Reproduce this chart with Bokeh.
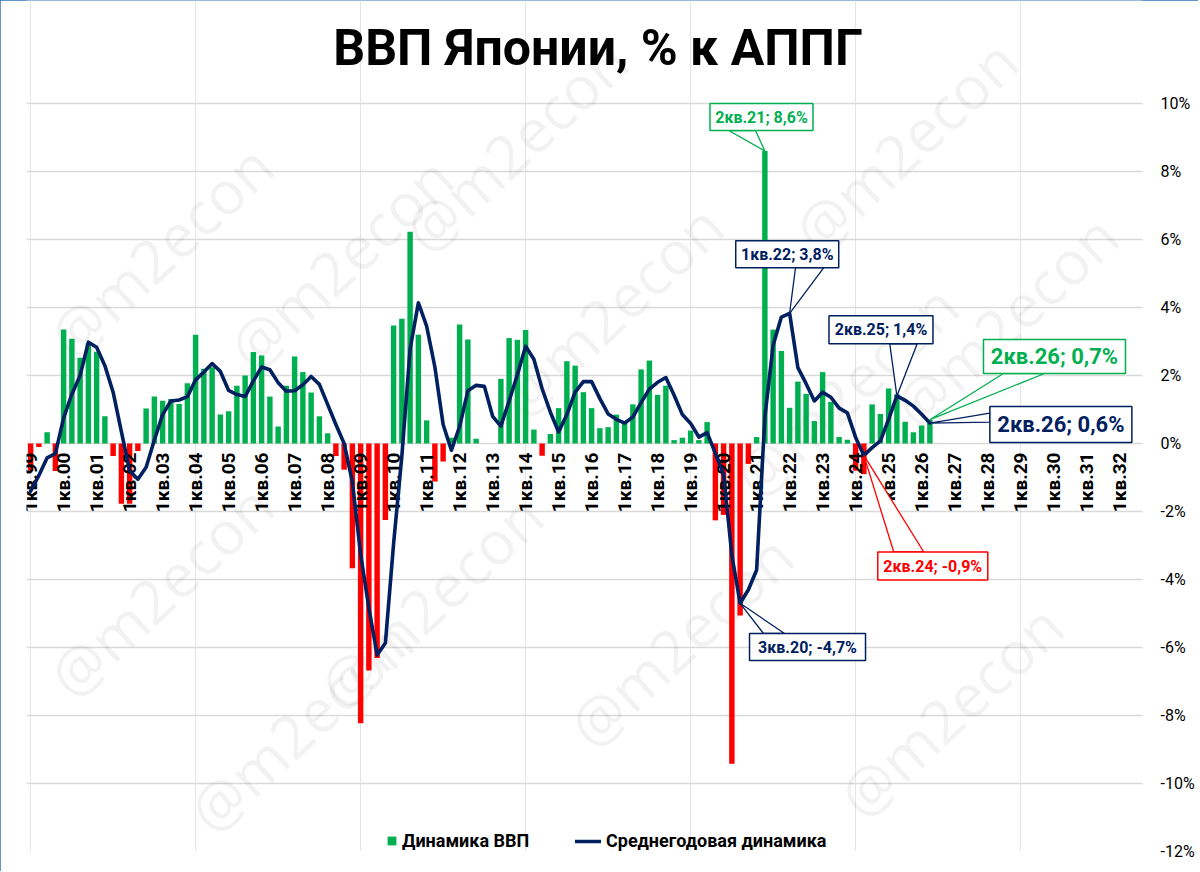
import math
from bokeh.plotting import figure
from bokeh.models import Range1d, FixedTicker, PrintfTickFormatter, Legend, LegendItem
from bokeh.core.properties import value
from bokeh.embed import file_html
from bokeh.resources import INLINE

# ---------------- data ----------------
TITLE = "ВВП Японии, % к АППГ"
bar_name = "Динамика ВВП"
line_name = "Среднегодовая динамика"

tick_labels = ["1кв.99", "1кв.00", "1кв.01", "1кв.02", "1кв.03", "1кв.04", "1кв.05",
               "1кв.06", "1кв.07", "1кв.08", "1кв.09", "1кв.10", "1кв.11", "1кв.12",
               "1кв.13", "1кв.14", "1кв.15", "1кв.16", "1кв.17", "1кв.18", "1кв.19",
               "1кв.20", "1кв.21", "1кв.22", "1кв.23", "1кв.24", "1кв.25", "1кв.26",
               "1кв.27", "1кв.28", "1кв.29", "1кв.30", "1кв.31", "1кв.32"]

# quarterly GDP, % y/y (1кв.99 ... 2кв.26)
bars = [
    -0.80, -0.10, 0.33, -0.81,
    3.35, 3.08, 2.52, 2.95,
    2.70, 0.80, -0.37, -1.77,
    -1.77, -0.22, 1.03, 1.38,
    1.26, 1.31, 1.16, 1.77,
    3.20, 2.20, 2.24, 0.85,
    0.95, 1.70, 2.00, 2.69,
    2.59, 1.38, 0.50, 1.70,
    2.56, 2.10, 1.50, 0.80,
    0.30, -0.37, -0.77, -3.67,
    -8.23, -6.68, -6.31, -2.25,
    3.47, 3.67, 6.23, 3.20,
    0.68, -1.12, -0.53, 0.17,
    3.50, 3.06, 0.14, 0.00,
    0.00, 1.90, 3.10, 3.05,
    3.34, 0.41, -0.36, 0.28,
    1.04, 2.42, 2.29, 1.51,
    1.04, 0.45, 0.48, 0.85,
    0.64, 1.15, 2.18, 2.44,
    1.43, 1.70, 0.10, 0.17,
    0.38, 0.10, 0.63, -2.26,
    -2.10, -9.42, -5.06, -0.60,
    0.19, 8.60, 3.35, 2.72,
    1.05, 1.82, 1.46, 0.66,
    2.10, 1.22, 0.19, 0.11,
    -0.80, -0.90, 1.15, 0.87,
    1.62, 1.45, 0.64, 0.33,
    0.53, 0.70,
]

# average annual dynamics, %
avg = [
    -1.40, -0.94, -0.42, -0.30,
    0.75, 1.45, 2.00, 2.98,
    2.83, 2.29, 1.51, 0.35,
    -0.80, -1.05, -0.70, 0.10,
    0.85, 1.25, 1.28, 1.38,
    1.87, 2.10, 2.35, 2.12,
    1.56, 1.44, 1.38, 1.84,
    2.25, 2.17, 1.79, 1.54,
    1.55, 1.73, 1.97, 1.74,
    1.15, 0.56, 0.00, -1.13,
    -3.26, -4.84, -6.22, -5.87,
    -2.94, -0.36, 2.78, 4.14,
    3.45, 2.25, 0.56, -0.20,
    0.50, 1.55, 1.71, 1.68,
    0.80, 0.51, 1.25, 2.02,
    2.86, 2.48, 1.61, 0.92,
    0.34, 0.85, 1.51, 1.82,
    1.82, 1.32, 0.87, 0.71,
    0.60, 0.78, 1.20, 1.60,
    1.80, 1.94, 1.42, 0.85,
    0.59, 0.19, 0.32, -0.29,
    -0.91, -3.29, -4.70, -4.30,
    -3.72, 0.78, 2.89, 3.72,
    3.83, 2.23, 1.76, 1.25,
    1.51, 1.36, 1.04, 0.90,
    0.18, -0.35, -0.12, 0.08,
    0.71, 1.40, 1.27, 1.10,
    0.86, 0.60,
]

y_ticks = [-12, -10, -8, -6, -4, -2, 0, 2, 4, 6, 8, 10]

# ---------------- style / layout ----------------
GREEN = "#00B050"
RED = "#FF0000"
NAVY = "#002060"
FONT = "Roboto"

FRAME_W, FRAME_H = 1116, 851
LEFT, TOP, BOTTOM, RIGHT = 26, 0, 20, 56
PAGE_LEFT, PAGE_TOP = LEFT, TOP
PX_X, PX_Y = 8.25, 34.0
X0 = -0.5
X1 = X0 + FRAME_W / PX_X
Y0 = -12.0
Y1 = Y0 + FRAME_H / PX_Y


def px2x(px):
    return X0 + (px - PAGE_LEFT) / PX_X


def px2y(py):
    return Y1 - (py - PAGE_TOP) / PX_Y


def x2px(x):
    return PAGE_LEFT + (x - X0) * PX_X


def y2px(y):
    return PAGE_TOP + (Y1 - y) * PX_Y


p = figure(frame_width=FRAME_W, frame_height=FRAME_H,
           x_range=Range1d(X0, X1), y_range=Range1d(Y0, Y1),
           x_axis_location=None, y_axis_location="right",
           toolbar_location=None, output_backend="svg",
           min_border_left=LEFT, min_border_top=TOP,
           min_border_bottom=BOTTOM, min_border_right=RIGHT)
p.outline_line_color = None
p.background_fill_color = "white"
p.border_fill_color = "white"
p.styles = {"outline": "1.5px solid #2E75B6", "outline-offset": "-1.5px"}

yax = p.yaxis[0]
yax.ticker = FixedTicker(ticks=y_ticks)
yax.formatter = PrintfTickFormatter(format="%d%%")
yax.axis_line_color = None
yax.major_tick_line_color = None
yax.minor_tick_line_color = None
yax.major_label_standoff = 12
yax.major_label_text_font = FONT
yax.major_label_text_font_size = "16px"
yax.major_label_text_color = "#000000"

p.ygrid.ticker = FixedTicker(ticks=y_ticks)
p.ygrid.grid_line_color = "#D9D9D9"
p.ygrid.grid_line_width = 1.3

# watermarks (page px centres), kept fully inside the plot area
wm_pos = [(160, 250), (340, 262), (515, 145), (610, 310), (905, 145), (845, 390),
          (1005, 320), (160, 590), (430, 600), (680, 640), (950, 710), (300, 725)]
p.text(x=[px2x(a) for a, b in wm_pos], y=[px2y(b) for a, b in wm_pos],
       text=["@m2econ"] * len(wm_pos), angle=0.75,
       text_font=value("Open Sans"), text_font_size="60px",
       text_color="#000000", text_alpha=0.05,
       text_align="center", text_baseline="middle")

# title
p.text(x=[px2x(597.5)], y=[px2y(47)], text=[TITLE],
       text_font=value(FONT), text_font_style="bold", text_font_size="50px",
       text_color="#000000", text_align="center", text_baseline="alphabetic")

# bars
idx = list(range(len(bars)))
bar_colors = [GREEN if v >= 0 else RED for v in bars]
bar_r = p.vbar(x=idx, top=bars, bottom=0, width=0.66,
               fill_color=bar_colors, line_color=None)

# category labels (every 4th quarter), rotated, just under 0%
lab_x = [4 * k for k in range(len(tick_labels))]
p.text(x=lab_x, y=[px2y(452)] * len(lab_x), text=tick_labels,
       angle=math.pi / 2, text_align="right", text_baseline="middle",
       text_font=value(FONT), text_font_style="bold", text_font_size="19px",
       text_color="#000000")

# average line
line_r = p.line(x=idx, y=avg, line_color=NAVY, line_width=3.6,
                line_join="round", line_cap="round")

# callouts: text, series, index, colour, font px, box w, h, box centre dx, dy (px from tip),
#           wedge side, wedge base offsets a, b
callouts = [
    ("2кв.21; 8,6%", bars, 89, GREEN, 16, 103, 27, -3.4, -34.1, "bottom", -32.7, -6),
    ("1кв.22; 3,8%", avg, 92, NAVY, 16, 103, 27, -2.4, -59.1, "bottom", 8.3, 36.6),
    ("2кв.25; 1,4%", avg, 105, NAVY, 16, 104, 28, -15.9, -66.1, "bottom", 8.8, 36.2),
    ("2кв.26; 0,7%", bars, 109, GREEN, 22, 142, 34, 124.6, -63.2, "bottom", -51, -10),
    ("2кв.26; 0,6%", avg, 109, NAVY, 22, 142, 36, 131.0, 1.4, "left", -11.3, -2.3),
    ("2кв.24; -0,9%", avg, 101, RED, 16, 110, 28, 68.9, 110.6, "top", -39, -9),
    ("3кв.20; -4,7%", avg, 86, NAVY, 16, 116, 27, 67.4, 43.7, "top", -44, -23),
]

for (txt, ser, i, col, fs, w, h, dx, dy, side, a, b) in callouts:
    tx, ty = i, ser[i]
    cx, cy = x2px(tx) + dx, y2px(ty) + dy
    if side == "bottom":
        base = [(cx + a, cy + h / 2), (cx + b, cy + h / 2)]
    elif side == "top":
        base = [(cx + a, cy - h / 2), (cx + b, cy - h / 2)]
    else:
        base = [(cx - w / 2, cy + a), (cx - w / 2, cy + b)]
    p.patch(x=[px2x(base[0][0]), px2x(base[1][0]), tx],
            y=[px2y(base[0][1]), px2y(base[1][1]), ty],
            fill_color="white", line_color=col, line_width=1.3)
    p.rect(x=[px2x(cx)], y=[px2y(cy)], width=w / PX_X, height=h / PX_Y,
           fill_color="white", line_color=col, line_width=1.5)
    p.text(x=[px2x(cx)], y=[px2y(cy)], text=[txt],
           text_font=value(FONT), text_font_style="bold", text_font_size=f"{fs}px",
           text_color=col, text_align="center", text_baseline="middle")

# legends (inside the frame, bottom)
leg1 = Legend(items=[LegendItem(label=bar_name, renderers=[bar_r], index=4)],
              location=(360, 0), orientation="horizontal",
              glyph_width=11, glyph_height=11, label_height=16, label_standoff=5,
              padding=0, margin=0, spacing=0,
              border_line_color=None, background_fill_alpha=0,
              label_text_font=FONT, label_text_font_style="bold",
              label_text_font_size="18px", label_text_color="#000000")
leg2 = Legend(items=[LegendItem(label=line_name, renderers=[line_r])],
              location=(549, 0), orientation="horizontal",
              glyph_width=26, glyph_height=16, label_height=16, label_standoff=5,
              padding=0, margin=0, spacing=0,
              border_line_color=None, background_fill_alpha=0,
              label_text_font=FONT, label_text_font_style="bold",
              label_text_font_size="18px", label_text_color="#000000")
p.add_layout(leg1, "center")
p.add_layout(leg2, "center")

open("out.html", "w").write(file_html(p, INLINE))
